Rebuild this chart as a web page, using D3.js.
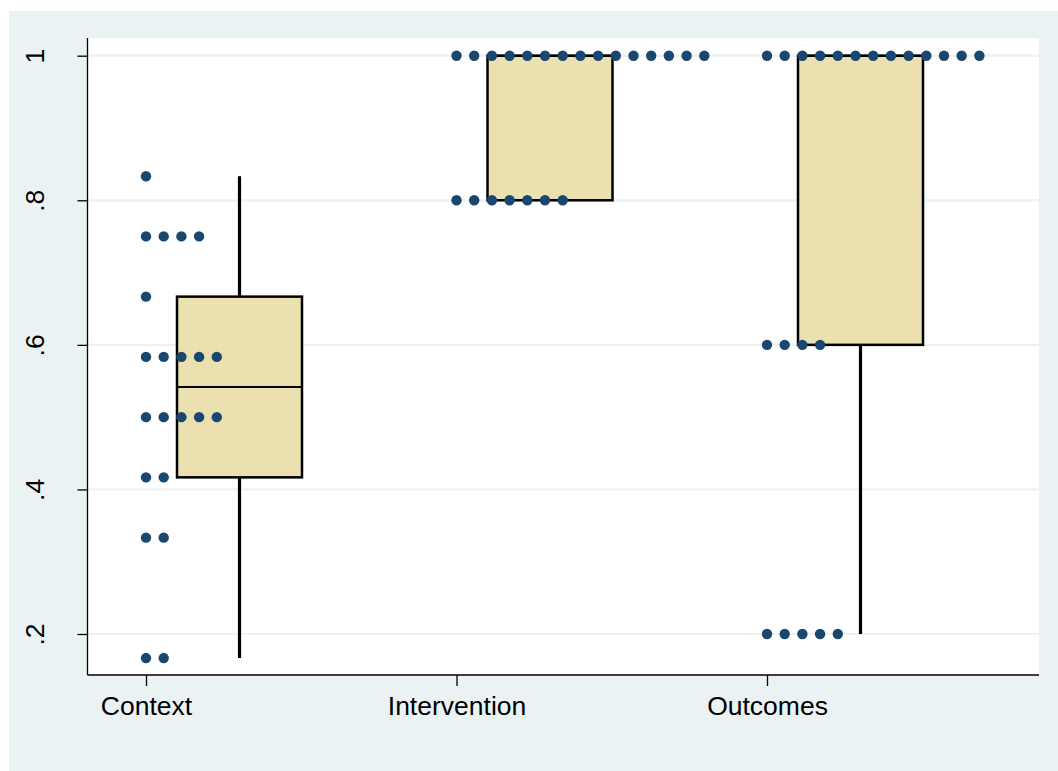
<!DOCTYPE html>
<html>
<head>
<meta charset="utf-8">
<script src="https://cdn.jsdelivr.net/npm/d3@7"></script>
<style>
  html, body { margin: 0; padding: 0; background: #ffffff; }
  svg { display: block; font-family: "Liberation Sans", Arial, sans-serif; }
</style>
</head>
<body>
<svg id="chart" width="1058" height="771"></svg>
<script>
// Scores by domain: each distinct level with how many studies sit at it
const categories = ["Context", "Intervention", "Outcomes"];
const contextLevels = [0.1667, 0.3333, 0.4167, 0.5, 0.5833, 0.6667, 0.75, 0.8333];
const contextCounts = [2, 2, 2, 5, 5, 1, 4, 1];
const interventionLevels = [0.8, 1.0];
const interventionCounts = [7, 15];
const outcomesLevels = [0.2, 0.6, 1.0];
const outcomesCounts = [5, 4, 13];
const yTicks = [0.2, 0.4, 0.6, 0.8, 1.0];

const groups = [
  { name: categories[0], levels: contextLevels, counts: contextCounts },
  { name: categories[1], levels: interventionLevels, counts: interventionCounts },
  { name: categories[2], levels: outcomesLevels, counts: outcomesCounts }
];

// Stata-style percentile (default definition used by summarize/graph box)
function pctile(sorted, p) {
  const n = sorted.length;
  const np = n * p;
  const j = Math.floor(np);
  if (np === j) {
    return j === 0 ? sorted[0] : (sorted[j - 1] + sorted[Math.min(j, n - 1)]) / 2;
  }
  return sorted[Math.min(j, n - 1)];
}

groups.forEach(g => {
  const vals = [];
  g.levels.forEach((v, i) => { for (let k = 0; k < g.counts[i]; k++) vals.push(v); });
  vals.sort((a, b) => a - b);
  g.values = vals;
  g.q1 = pctile(vals, 0.25);
  g.med = pctile(vals, 0.5);
  g.q3 = pctile(vals, 0.75);
  const iqr = g.q3 - g.q1;
  g.lo = d3.min(vals.filter(v => v >= g.q1 - 1.5 * iqr));
  g.hi = d3.max(vals.filter(v => v <= g.q3 + 1.5 * iqr));
});

const W = 1058, H = 771;
const plot = { left: 87.5, right: 1039, top: 38, bottom: 675 };

const svg = d3.select("#chart");

// graph region
svg.append("rect").attr("x", 9).attr("y", 11).attr("width", W - 9).attr("height", H - 11)
  .attr("fill", "#eaf2f3");
// plot region
svg.append("rect").attr("x", plot.left).attr("y", plot.top)
  .attr("width", plot.right - plot.left).attr("height", plot.bottom - plot.top)
  .attr("fill", "#ffffff");

const y = d3.scaleLinear().domain([0.2, 1.0]).range([634, 55.7]);
const x = d3.scalePoint().domain(categories).range([146, 767]).padding(0);

const dotStep = 17.7;    // horizontal spacing between stacked points
const boxOffset = 93.5;  // box sits to the right of its point column
const boxWidth = 125;

// grid lines
svg.append("g").selectAll("line").data(yTicks).join("line")
  .attr("x1", plot.left).attr("x2", plot.right)
  .attr("y1", d => y(d)).attr("y2", d => y(d))
  .attr("stroke", "#eaf2f3").attr("stroke-width", 2.2);

// boxes and whiskers
const boxes = svg.append("g").selectAll("g").data(groups).join("g")
  .attr("transform", d => `translate(${x(d.name) + boxOffset},0)`);

boxes.append("line")
  .attr("x1", 0).attr("x2", 0)
  .attr("y1", d => y(d.q3)).attr("y2", d => y(d.hi))
  .attr("stroke", "#000").attr("stroke-width", 3.2)
  .attr("display", d => d.hi > d.q3 ? null : "none");
boxes.append("line")
  .attr("x1", 0).attr("x2", 0)
  .attr("y1", d => y(d.q1)).attr("y2", d => y(d.lo))
  .attr("stroke", "#000").attr("stroke-width", 3.2)
  .attr("display", d => d.lo < d.q1 ? null : "none");
boxes.append("rect")
  .attr("x", -boxWidth / 2).attr("width", boxWidth)
  .attr("y", d => y(d.q3)).attr("height", d => y(d.q1) - y(d.q3))
  .attr("fill", "#eae0b0").attr("stroke", "#000").attr("stroke-width", 2.5);
boxes.append("line")
  .attr("x1", -boxWidth / 2).attr("x2", boxWidth / 2)
  .attr("y1", d => y(d.med)).attr("y2", d => y(d.med))
  .attr("stroke", "#000").attr("stroke-width", 2);

// stacked points
const pts = [];
groups.forEach(g => {
  g.levels.forEach((v, i) => {
    for (let k = 0; k < g.counts[i]; k++) pts.push({ name: g.name, v: v, k: k });
  });
});
svg.append("g").selectAll("circle").data(pts).join("circle")
  .attr("cx", d => x(d.name) + d.k * dotStep)
  .attr("cy", d => y(d.v))
  .attr("r", 5.2)
  .attr("fill", "#1a476f");

// y axis
const yAxis = svg.append("g").attr("transform", `translate(${plot.left},0)`)
  .call(d3.axisLeft(y).tickValues(yTicks).tickSize(10)
    .tickFormat(d => d === 1 ? "1" : d3.format(".1f")(d).replace(/^0/, "")));
yAxis.select(".domain").attr("d", `M0,${plot.top}V${plot.bottom}`).attr("stroke", "#000").attr("stroke-width", 1.3);
yAxis.selectAll(".tick line").attr("stroke", "#000").attr("stroke-width", 1.3);
yAxis.selectAll(".tick text")
  .attr("transform", "rotate(-90)")
  .attr("x", 0).attr("y", -43.5).attr("dy", 0)
  .attr("text-anchor", "middle")
  .attr("fill", "#000")
  .style("font-size", "26.5px")
  .style("font-family", "'Liberation Sans', Arial, sans-serif");

// x axis
const xAxis = svg.append("g").attr("transform", `translate(0,${plot.bottom})`)
  .call(d3.axisBottom(x).tickSize(11).tickPadding(0));
xAxis.select(".domain").attr("d", `M${plot.left},0H${plot.right}`).attr("stroke", "#000").attr("stroke-width", 1.3);
xAxis.selectAll(".tick line").attr("stroke", "#000").attr("stroke-width", 1.3);
xAxis.selectAll(".tick text")
  .attr("y", 40).attr("dy", 0)
  .attr("fill", "#000")
  .style("font-size", "26.5px")
  .style("font-family", "'Liberation Sans', Arial, sans-serif");
</script>
</body>
</html>
